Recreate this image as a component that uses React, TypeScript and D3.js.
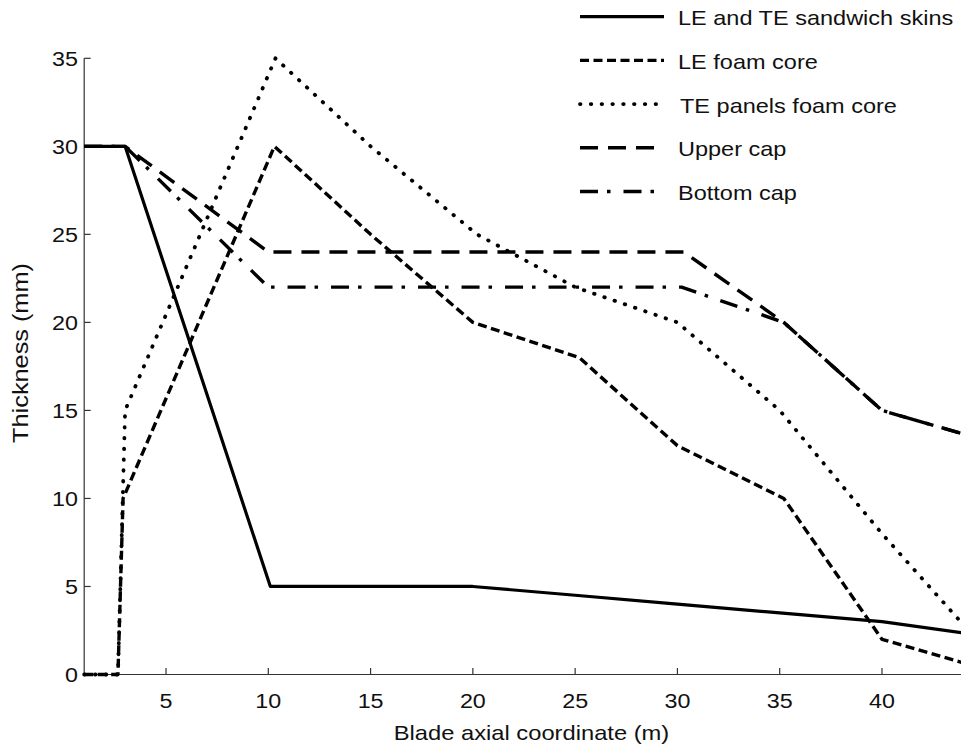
import React from "react";
import * as d3 from "d3";

const seriesNames = [
  "LE and TE sandwich skins",
  "LE foam core",
  "TE panels foam core",
  "Upper cap",
  "Bottom cap",
];

const skinsX = [1, 3, 10.1, 20, 25, 30, 35, 40, 44];
const skinsY = [30, 30, 5, 5, 4.5, 4, 3.5, 3, 2.35];

const leFoamX = [1, 2.65, 2.9, 10.3, 15, 20, 25.2, 30, 35.2, 40, 44];
const leFoamY = [0, 0, 10, 30, 25, 20, 18, 13, 10, 2, 0.65];

const teFoamX = [1, 2.65, 3, 10.35, 15, 20.2, 25, 30, 35, 40, 44];
const teFoamY = [0, 0, 15, 35, 30, 25, 22, 20, 15, 8, 2.8];

const upperCapX = [1, 3, 10, 30.3, 35.2, 40, 44];
const upperCapY = [30, 30, 24, 24, 20, 15, 13.65];

const bottomCapX = [1, 3, 10, 30.2, 35.2, 40, 44];
const bottomCapY = [30, 30, 22, 22, 20, 15, 13.65];

const xTicks = [5, 10, 15, 20, 25, 30, 35, 40];
const yTicks = [0, 5, 10, 15, 20, 25, 30, 35];

const xTitle = "Blade axial coordinate (m)";
const yTitle = "Thickness (mm)";

const W = 961;
const H = 749;
const FONT = "'Liberation Sans', Arial, Helvetica, sans-serif";

const dashes = ["", "9 4.5", "0.5 10.3", "18 10", "18 9 3.5 13"];
const caps: ("butt" | "round")[] = ["butt", "butt", "round", "butt", "butt"];
const widths = [3.2, 3.4, 3.8, 3.4, 3.4];

export default function App() {
  const x = d3.scaleLinear().domain([1, 44]).range([84.2, 963.8]);
  const y = d3.scaleLinear().domain([0, 35]).range([674.5, 58.3]);

  const seriesX = [skinsX, leFoamX, teFoamX, upperCapX, bottomCapX];
  const seriesY = [skinsY, leFoamY, teFoamY, upperCapY, bottomCapY];

  const line = d3
    .line<[number, number]>()
    .x((d) => x(d[0]))
    .y((d) => y(d[1]));

  const paths = seriesX.map((xs, i) =>
    line(xs.map((v, j) => [v, seriesY[i][j]] as [number, number]))
  );

  const x0 = x(1);
  const yBase = y(0);
  const sx = 1.11;

  const order = [4, 3, 2, 1, 0];

  return (
    <svg
      width={W}
      height={H}
      style={{ position: "absolute", left: 0, top: 0, background: "#fff" }}
      fontFamily={FONT}
    >
      <rect x={0} y={0} width={W} height={H} fill="#fff" />
      <defs>
        <clipPath id="plot">
          <rect x={x0 - 4} y={0} width={W - x0 + 4} height={yBase + 4} />
        </clipPath>
      </defs>

      <line x1={x0} x2={W} y1={yBase} y2={yBase} stroke="#333" strokeWidth={1.2} />
      <line x1={x0} x2={x0} y1={y(35)} y2={yBase} stroke="#333" strokeWidth={1.2} />
      {xTicks.map((t) => (
        <g key={"xt" + t}>
          <line x1={x(t)} x2={x(t)} y1={yBase} y2={yBase - 6.5} stroke="#333" strokeWidth={1.2} />
          <text
            transform={`translate(${x(t)},707.5) scale(${sx},1)`}
            textAnchor="middle"
            fontSize={21}
            fill="#111"
          >
            {t}
          </text>
        </g>
      ))}
      {yTicks.map((t) => (
        <g key={"yt" + t}>
          <line x1={x0} x2={x0 + 6.5} y1={y(t)} y2={y(t)} stroke="#333" strokeWidth={1.2} />
          <text
            transform={`translate(78,${y(t) + 7.5}) scale(${sx},1)`}
            textAnchor="end"
            fontSize={21}
            fill="#111"
          >
            {t}
          </text>
        </g>
      ))}

      <text
        transform={`translate(531.5,739.5) scale(1.13,1)`}
        textAnchor="middle"
        fontSize={21}
        fill="#111"
      >
        {xTitle}
      </text>
      <text
        transform={`translate(28,353) rotate(-90) scale(1.15,1)`}
        textAnchor="middle"
        fontSize={22}
        fill="#111"
      >
        {yTitle}
      </text>

      <g clipPath="url(#plot)">
        {order.map((i) => (
          <path
            key={"s" + i}
            d={paths[i] || ""}
            fill="none"
            stroke="#000"
            strokeWidth={widths[i]}
            strokeDasharray={dashes[i] || undefined}
            strokeLinecap={caps[i]}
            strokeLinejoin="round"
          />
        ))}
      </g>

      {seriesNames.map((name, i) => {
        const ly = 16.7 + i * 43.7;
        return (
          <g key={"lg" + i}>
            <line
              x1={580}
              x2={664}
              y1={ly}
              y2={ly}
              stroke="#000"
              strokeWidth={widths[i]}
              strokeDasharray={dashes[i] || undefined}
              strokeLinecap={caps[i]}
            />
            <text
              transform={`translate(${i === 2 ? 680 : 678},${ly + 8.5}) scale(1.12,1)`}
              fontSize={21}
              fill="#111"
            >
              {name}
            </text>
          </g>
        );
      })}
    </svg>
  );
}
